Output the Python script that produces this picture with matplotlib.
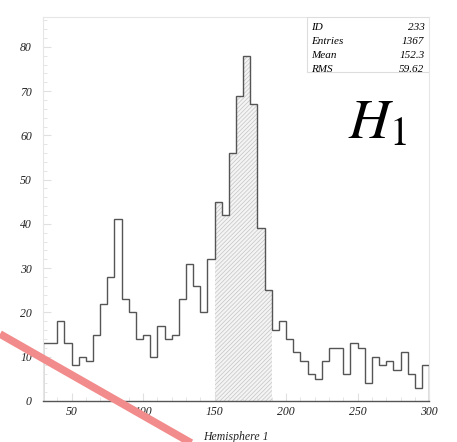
import matplotlib
matplotlib.use('Agg')
import matplotlib.pyplot as plt
from matplotlib.ticker import MultipleLocator
import numpy as np

# histogram contents, 5-wide bins from 30 to 300
bin_lo = 30
bin_hi = 300
bin_w = 5
counts = [13, 13, 18, 13, 8, 10, 9, 15, 22, 28, 41, 23, 20, 14, 15, 10, 17, 14, 15, 23, 31, 26, 20, 32,
          45, 42, 56, 69, 78, 67, 39, 25,
          16, 18, 14, 11, 9, 6, 5, 9, 12, 12, 6, 13, 12, 4, 10, 8, 9, 7, 11, 6, 3, 8]
shade_lo = 150   # shaded window
shade_hi = 190

stat_names = ['ID', 'Entries', 'Mean', 'RMS']
stat_values = ['233', '1367', '152.3', '59.62']

plt.rcParams['mathtext.fontset'] = 'stix'
plt.rcParams['hatch.linewidth'] = 0.5
serif = 'Liberation Serif'

edges = np.arange(bin_lo, bin_hi + bin_w, bin_w)
counts = np.array(counts)

fig = plt.figure(figsize=(4.57, 4.42), dpi=100)
ax = fig.add_axes([0.094, 0.093, 0.845, 0.869])

# 陰影區
i0 = int((shade_lo - bin_lo) / bin_w)
i1 = int((shade_hi - bin_lo) / bin_w)
ax.stairs(counts[i0:i1], edges[i0:i1 + 1], fill=True, facecolor='#f4f4f4',
          edgecolor='#c4c4c4', linewidth=0, hatch='////////')
ax.stairs(counts, edges, baseline=0, color='#555555', linewidth=1.0)

ax.set_xlim(bin_lo, bin_hi)
ax.set_ylim(0, 86.8)

for s in ['top', 'right', 'left']:
    ax.spines[s].set_color('#e6e6e6')
    ax.spines[s].set_linewidth(0.8)
ax.spines['bottom'].set_color('#555555')
ax.spines['bottom'].set_linewidth(1.0)

ax.xaxis.set_major_locator(MultipleLocator(50))
ax.xaxis.set_minor_locator(MultipleLocator(10))
ax.yaxis.set_major_locator(MultipleLocator(10))
ax.yaxis.set_minor_locator(MultipleLocator(2))
ax.tick_params(which='both', direction='in', color='#e0e0e0')
ax.tick_params(which='major', length=6, width=0.8)
ax.tick_params(which='minor', length=3, width=0.6)
ax.tick_params(axis='x', pad=4)
ax.tick_params(axis='y', pad=8)
for lab in ax.get_xticklabels() + ax.get_yticklabels():
    lab.set_fontfamily(serif)
    lab.set_fontstyle('italic')
    lab.set_fontsize(8.5)
    lab.set_color('#222222')

ax.set_xlabel('Hemisphere 1', fontfamily=serif, fontstyle='italic', fontsize=8.5,
              color='#222222', labelpad=9)

# 統計框
box = plt.Rectangle((0.684, 0.855), 0.316, 0.145, transform=ax.transAxes,
                    facecolor='white', edgecolor='#dddddd', linewidth=0.8, zorder=3)
ax.add_patch(box)
row_y = [0.985, 0.948, 0.911, 0.874]
for name, val, y in zip(stat_names, stat_values, row_y):
    ax.text(0.694, y, name, transform=ax.transAxes, ha='left', va='top',
            fontfamily=serif, fontstyle='italic', fontsize=8, zorder=4)
    ax.text(0.988, y, val, transform=ax.transAxes, ha='right', va='top',
            fontfamily=serif, fontstyle='italic', fontsize=8, zorder=4)

ax.text(0.79, 0.684, r'$H_1$', transform=ax.transAxes, ha='left', va='baseline',
        fontsize=41, color='black')

# 粉紅斜線
fig.add_artist(plt.Line2D([0, 200 / 457], [1 - 334 / 442, 1 - 448 / 442],
                          transform=fig.transFigure, color='#f28b8b', linewidth=5.5,
                          solid_capstyle='butt', zorder=10))

fig.savefig('out.png', dpi=100)
